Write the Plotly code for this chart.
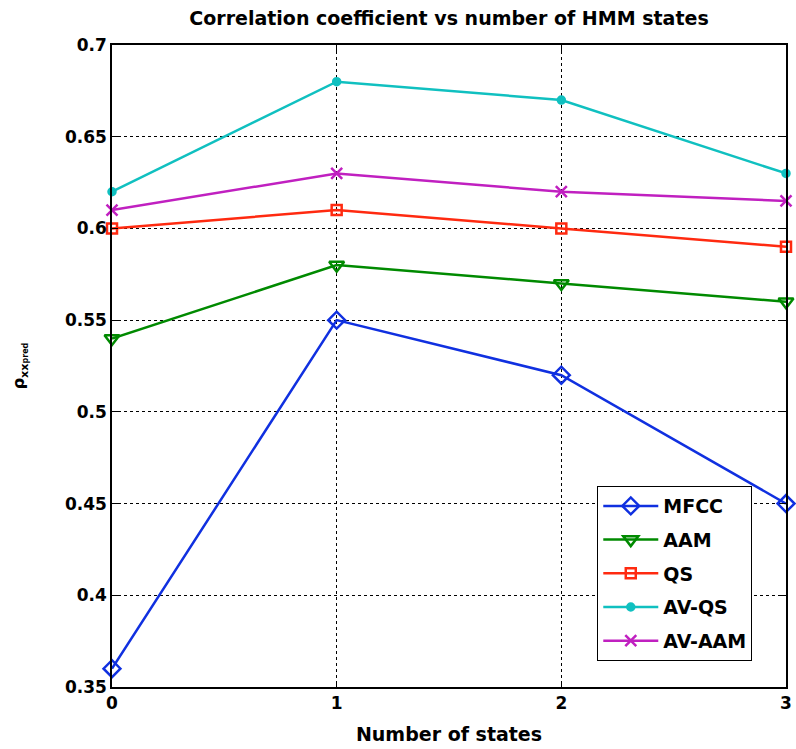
import plotly.graph_objects as go

states = [0, 1, 2, 3]
series_names = ["MFCC", "AAM", "QS", "AV-QS", "AV-AAM"]
mfcc = [0.36, 0.55, 0.52, 0.45]
aam = [0.54, 0.58, 0.57, 0.56]
qs = [0.60, 0.61, 0.60, 0.59]
av_qs = [0.62, 0.68, 0.67, 0.63]
av_aam = [0.61, 0.63, 0.62, 0.615]
ytick_vals = [0.35, 0.4, 0.45, 0.5, 0.55, 0.6, 0.65, 0.7]
ytick_text = ["0.35", "0.4", "0.45", "0.5", "0.55", "0.6", "0.65", "0.7"]

styles = [
    ("#1030e0", "diamond-open", 13),
    ("#008a00", "triangle-down-open", 13),
    ("#ff2a10", "square-open", 10),
    ("#10c0c0", "circle", 7),
    ("#c020c0", "x-thin-open", 11),
]
data = [mfcc, aam, qs, av_qs, av_aam]

fig = go.Figure()
for name, ys, (col, sym, sz) in zip(series_names, data, styles):
    fig.add_trace(go.Scatter(
        x=states, y=ys, name=name, mode="lines+markers", legendgroup=name,
        line=dict(color=col, width=2.5),
        marker=dict(symbol=sym, size=sz, color=col, line=dict(color=col, width=2.5)),
        cliponaxis=False,
    ))

font_fam = "DejaVu Sans, Verdana, sans-serif"
fig.update_layout(
    width=796, height=749,
    margin=dict(l=112, r=4, t=45, b=62),
    paper_bgcolor="white", plot_bgcolor="white",
    font=dict(family=font_fam, size=16, color="black", weight="bold"),
    title=dict(text="Correlation coefficient vs number of HMM states",
               x=0.5, xref="paper", xanchor="center", y=0.976, yanchor="middle",
               font=dict(size=19, weight="bold")),
    showlegend=True,
    legend=dict(x=0.72, y=0.313, xanchor="left", yanchor="top",
                bordercolor="black", borderwidth=1, bgcolor="white",
                font=dict(size=19, weight="bold"), tracegroupgap=6,
                itemwidth=55),
    xaxis=dict(range=[0, 3], tickvals=states, ticktext=[str(s) for s in states],
               showline=True, linecolor="black", linewidth=1.5, mirror="ticks",
               ticks="inside", ticklen=6, tickcolor="black",
               showgrid=True, gridcolor="black", griddash="dot", gridwidth=1,
               zeroline=False,
               title=dict(text="Number of states", font=dict(size=19, weight="bold"), standoff=16),
               tickfont=dict(size=17, weight="bold")),
    yaxis=dict(range=[0.35, 0.7], tickvals=ytick_vals, ticktext=ytick_text,
               showline=True, linecolor="black", linewidth=1.5, mirror="ticks",
               ticks="inside", ticklen=6, tickcolor="black",
               showgrid=True, gridcolor="black", griddash="dot", gridwidth=1,
               zeroline=False,
               title=dict(text="ρ<sub>xx</sub><sub><span style='font-size:8px'>pred</span></sub>",
                          font=dict(size=16, weight="bold"), standoff=36),
               tickfont=dict(size=17, weight="bold")),
)

fig.write_html("out.html")
